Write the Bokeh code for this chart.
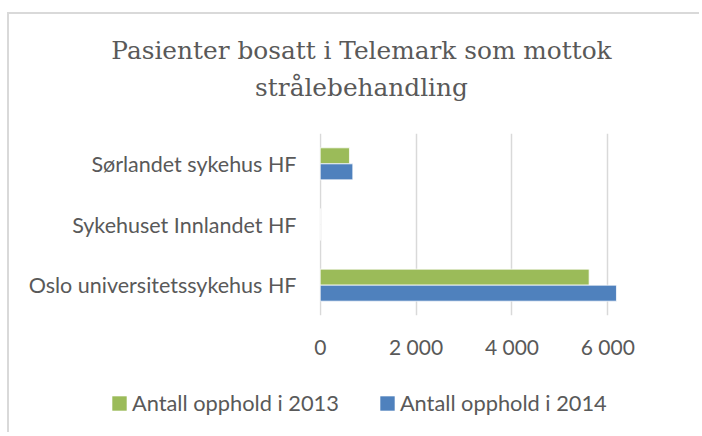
from bokeh.plotting import figure
from bokeh.layouts import column
from bokeh.models import (FactorRange, Range1d, FixedTicker, Legend, LegendItem,
                          ColumnDataSource, Title)
from bokeh.transform import dodge
from bokeh.embed import file_html
from bokeh.resources import INLINE

title_lines = ["Pasienter bosatt i Telemark som mottok", "strålebehandling"]
categories = ["Sørlandet sykehus HF", "Sykehuset Innlandet HF", "Oslo universitetssykehus HF"]
values_2013 = [610, 0, 5610]
values_2014 = [680, 0, 6180]
series_names = ["Antall opphold i 2013", "Antall opphold i 2014"]
tick_values = [0, 2000, 4000, 6000]
tick_labels = ["0", "2 000", "4 000", "6 000"]

GREEN = "#9BBB59"
BLUE = "#4F81BD"
TEXT = "#595959"
EDGE = "2px solid #D9D9D9"
FONT = "Lato"

# ---- title part
pt = figure(width=692, height=121, output_backend="svg", toolbar_location=None,
            x_axis_type=None, y_axis_type=None, title=None,
            min_border_left=12, min_border_right=0, min_border_top=90, min_border_bottom=0)
pt.frame_align = False
pt.styles = {"margin-left": "7px", "margin-top": "12px", "border-left": EDGE, "border-top": EDGE}
pt.outline_line_color = None
for line in reversed(title_lines):
    pt.add_layout(Title(text=line, align="center", text_font="DejaVu Serif",
                        text_font_size="24.8px", text_font_style="normal",
                        text_color=TEXT, standoff=6), "above")

# ---- main chart
src = ColumnDataSource(dict(cat=categories, v13=values_2013, v14=values_2014))

p = figure(width=692, height=237, output_backend="svg", toolbar_location=None,
           y_range=FactorRange(*reversed(categories)), x_range=Range1d(-15, 7954),
           min_border_left=310, min_border_right=0, min_border_bottom=55, min_border_top=0)
p.frame_align = False
p.styles = {"margin-left": "7px", "border-left": EDGE}
p.outline_line_color = None

r13 = p.hbar(y=dodge("cat", 0.132, range=p.y_range), right="v13", left=0, height=0.264,
             source=src, fill_color=GREEN, line_color="white", line_width=0.75)
r14 = p.hbar(y=dodge("cat", -0.132, range=p.y_range), right="v14", left=0, height=0.264,
             source=src, fill_color=BLUE, line_color="white", line_width=0.75)

xa = p.xaxis[0]
xa.ticker = FixedTicker(ticks=tick_values)
xa.major_label_overrides = {v: l for v, l in zip(tick_values, tick_labels)}
xa.axis_line_color = None
xa.major_tick_line_color = None
xa.major_tick_out = 0
xa.major_tick_in = 0
xa.minor_tick_line_color = None
xa.major_label_standoff = 18
xa.major_label_text_font = FONT
xa.major_label_text_font_size = "21px"
xa.major_label_text_color = TEXT

ya = p.yaxis[0]
ya.axis_line_color = None
ya.major_tick_line_color = None
ya.major_tick_out = 0
ya.major_tick_in = 0
ya.minor_tick_line_color = None
ya.major_label_standoff = 23
ya.major_label_text_font = FONT
ya.major_label_text_font_size = "21.5px"
ya.major_label_text_color = TEXT

p.xgrid.grid_line_color = "#D9D9D9"
p.xgrid.grid_line_width = 1.5
p.ygrid.grid_line_color = None

# ---- legend part (its own renderers lie outside the visible range; only the legend shows)
pl = figure(width=692, height=62, output_backend="svg", toolbar_location=None,
            x_axis_type=None, y_axis_type=None, x_range=Range1d(-2, -1),
            min_border_left=0, min_border_right=0, min_border_top=0, min_border_bottom=0)
pl.frame_align = False
pl.styles = {"margin-left": "7px", "border-left": EDGE}
pl.outline_line_color = None
l13 = pl.hbar(y="v13", right="v13", left=0, height=1, source=src,
              fill_color=GREEN, line_color=None)
l14 = pl.hbar(y="v14", right="v14", left=0, height=1, source=src,
              fill_color=BLUE, line_color=None)
legend = Legend(items=[LegendItem(label=series_names[0], renderers=[l13]),
                       LegendItem(label=series_names[1], renderers=[l14])],
                orientation="horizontal", location=(101, 16),
                glyph_width=18, glyph_height=18, label_standoff=4, spacing=39,
                padding=5, margin=0, border_line_color=None, background_fill_alpha=0,
                label_text_font=FONT, label_text_font_size="21.8px", label_text_color=TEXT)
pl.add_layout(legend, "center")

layout = column(pt, p, pl, spacing=0)
open("out.html", "w").write(file_html(layout, INLINE))
